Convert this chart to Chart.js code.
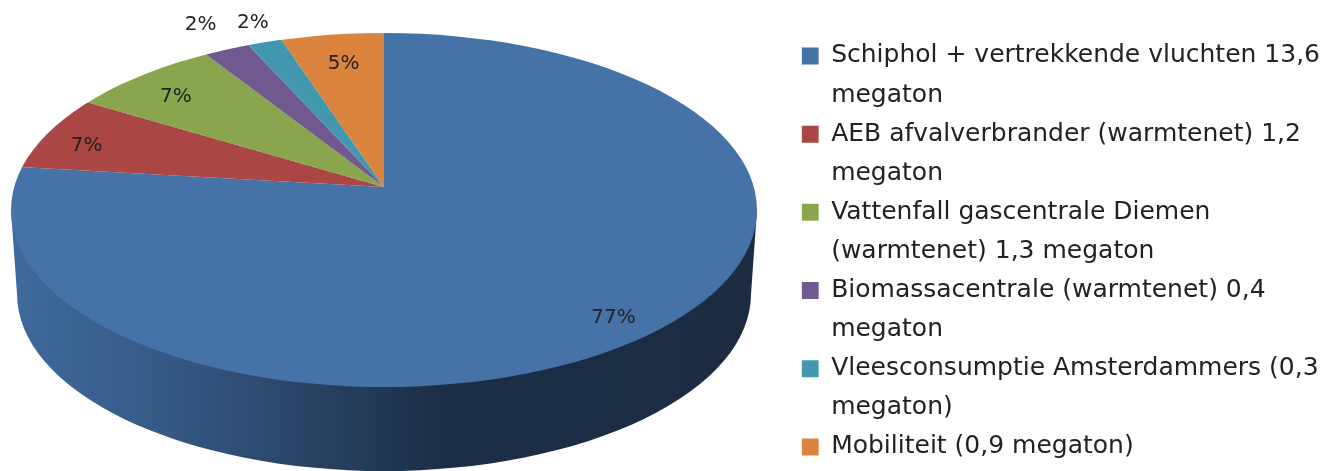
<!DOCTYPE html>
<html>
<head>
<meta charset="utf-8">
<style>
html, body { margin: 0; padding: 0; background: #fff; }
canvas { display: block; }
</style>
<script src="https://cdn.jsdelivr.net/npm/chart.js@4"></script>
</head>
<body>
<canvas id="pie" width="1339" height="471"></canvas>
<script>
const categories = [
	['Schiphol + vertrekkende vluchten 13,6', 'megaton'],
	['AEB afvalverbrander (warmtenet) 1,2', 'megaton'],
	['Vattenfall gascentrale Diemen', '(warmtenet) 1,3 megaton'],
	['Biomassacentrale (warmtenet) 0,4', 'megaton'],
	['Vleesconsumptie Amsterdammers (0,3', 'megaton)'],
	['Mobiliteit (0,9 megaton)']
]
const megaton = [13.6, 1.2, 1.3, 0.4, 0.3, 0.9]
const colors = ['#4572A7', '#AA4643', '#89A54E', '#71588F', '#4198AF', '#DB843D']

// how far out each percent label sits, in the unsquashed pie, plus a small nudge
const labelRadius = [354, 311, 285, 389, 371, 266]
const labelNudgeX = [-6, -3, -4, 2, 4, 2]
const labelNudgeY = [5, 6, 4, 0, 0, 2]

// fake 3D: the slices fan out of the apex, the ellipse cuts them off
const apexX = 384, apexY = 187, squash = 0.475
const faceX = 384, faceY = 210, faceRx = 373, faceRy = 177
const wallDrop = 84, wallRx = 367, wallRy = 177

const total = megaton.reduce((a, b) => a + b, 0)

const pie3d = {
	id: 'pie3d',
	beforeDatasetsDraw(chart) {
		const ctx = chart.ctx
		const arc = chart.getDatasetMeta(0).data[0]

		const wall = ctx.createLinearGradient(faceX - faceRx, 0, faceX + faceRx, 0)
		wall.addColorStop(0, '#3f6a9c')
		wall.addColorStop(0.2, '#355a85')
		wall.addColorStop(0.38, '#2a4568')
		wall.addColorStop(0.58, '#1b2e46')
		wall.addColorStop(1, '#1b2c42')
		ctx.beginPath()
		ctx.moveTo(faceX + faceRx, faceY)
		ctx.ellipse(faceX, faceY + wallDrop, wallRx, wallRy, 0, 0, Math.PI)
		ctx.lineTo(faceX - faceRx, faceY)
		ctx.closePath()
		ctx.fillStyle = wall
		ctx.fill()

		ctx.save()
		ctx.beginPath()
		ctx.ellipse(faceX, faceY, faceRx, faceRy, 0, 0, Math.PI * 2)
		ctx.clip()
		ctx.translate(apexX, apexY)
		ctx.scale(1, squash)
		ctx.translate(-arc.x, -arc.y)
	},
	afterDatasetsDraw(chart) {
		const ctx = chart.ctx
		ctx.restore()

		ctx.font = '20px "DejaVu Sans"'
		ctx.fillStyle = '#222'
		ctx.textAlign = 'center'
		ctx.textBaseline = 'middle'
		chart.getDatasetMeta(0).data.forEach((arc, i) => {
			const mid = (arc.startAngle + arc.endAngle) / 2
			const x = apexX + labelRadius[i] * Math.cos(mid) + labelNudgeX[i]
			const y = apexY + labelRadius[i] * Math.sin(mid) * squash + labelNudgeY[i]
			ctx.fillText(Math.round(megaton[i] / total * 100) + '%', x, y)
		})
	}
}

const chart = new Chart(document.getElementById('pie'), {
	type: 'pie',
	data: {
		labels: categories,
		datasets: [{
			data: megaton,
			backgroundColor: colors,
			borderWidth: 0,
			clip: false
		}]
	},
	options: {
		responsive: false,
		animation: false,
		radius: 440,
		layout: { padding: { top: 23, bottom: -23, right: 9 } },
		plugins: {
			tooltip: { enabled: false },
			legend: {
				position: 'right',
				labels: {
					boxWidth: 17,
					boxHeight: 17,
					padding: 0,
					color: '#222',
					font: { family: '"DejaVu Sans"', size: 25, lineHeight: '39.1px' }
				}
			}
		}
	},
	plugins: [pie3d]
})
</script>
</body>
</html>
